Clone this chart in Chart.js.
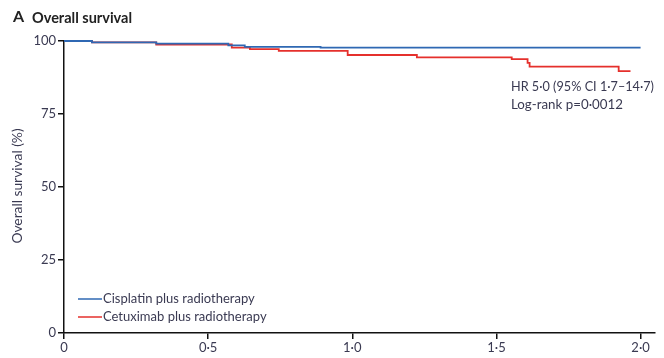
<!DOCTYPE html>
<html><head><meta charset="utf-8">
<script src="https://cdn.jsdelivr.net/npm/chart.js@4/dist/chart.umd.min.js"></script>
<style>html,body{margin:0;padding:0;background:#fff}#wrap{width:664px;height:358px;position:relative}</style>
</head><body><div id="wrap"><canvas id="c" width="664" height="358"></canvas></div>
<script>
// Kaplan-Meier step data (years, % surviving)
const cisTimes = [0, 0.097, 0.32, 0.57, 0.627, 0.89, 2.0];
const cisSurv  = [100, 99.5, 99.1, 98.5, 98.0, 97.7, 97.7];
const cetTimes = [0, 0.097, 0.32, 0.582, 0.645, 0.745, 0.984, 1.224, 1.553, 1.608, 1.615, 1.924, 1.965];
const cetSurv  = [100, 99.5, 98.8, 97.7, 97.2, 96.6, 95.2, 94.4, 93.8, 92.5, 91.2, 89.7, 89.7];
const xTickValues = [0, 0.5, 1.0, 1.5, 2.0];
const xTickLabels = ['0', '0·5', '1·0', '1·5', '2·0'];
const yTickValues = [0, 25, 50, 75, 100];
const seriesNames = ['Cisplatin plus radiotherapy', 'Cetuximab plus radiotherapy'];
const titleText = 'Overall survival';
const panelLetter = 'A';
const yAxisTitle = 'Overall survival (%)';
const annoLines = ['HR 5·0 (95% CI 1·7–14·7)', 'Log-rank p=0·0012'];

const FONT = "Lato, 'Open Sans', sans-serif";
const TXT = '#3a3a52';
const BLUE = '#2f68b3';
const RED = '#e5302c';

const toPts = (t, s) => t.map((x, i) => ({x, y: s[i]}));

function fitText(ctx, text, x, y, w) {
  const m = ctx.measureText(text).width;
  ctx.save();
  ctx.translate(x, y);
  ctx.scale(w / m, 1);
  ctx.fillText(text, 0, 0);
  ctx.restore();
}

const overlay = {
  id: 'overlay',
  afterDraw(chart) {
    const ctx = chart.ctx;
    ctx.save();
    ctx.fillStyle = '#222';
    ctx.textBaseline = 'middle';
    ctx.textAlign = 'left';
    ctx.font = "bold 16px " + FONT;
    ctx.fillText(panelLetter, 13, 17);
    ctx.font = "bold 14.5px " + FONT;
    ctx.fillText(titleText, 32, 18);
    // y axis title
    ctx.fillStyle = TXT;
    ctx.font = "13.8px " + FONT;
    ctx.translate(18, 186);
    ctx.rotate(-Math.PI / 2);
    ctx.textAlign = 'center';
    ctx.fillText(yAxisTitle, 0, 0);
    ctx.restore();
    ctx.save();
    // annotation
    ctx.fillStyle = TXT;
    ctx.font = "14px " + FONT;
    ctx.textBaseline = 'middle';
    ctx.textAlign = 'left';
    fitText(ctx, annoLines[0], 511, 86, 143);
    fitText(ctx, annoLines[1], 511, 104, 112);
    // legend
    const cols = [BLUE, RED];
    ctx.font = "13px " + FONT;
    [299, 317].forEach((y, i) => {
      ctx.strokeStyle = cols[i];
      ctx.lineWidth = 1.5;
      ctx.beginPath(); ctx.moveTo(78, y); ctx.lineTo(102, y); ctx.stroke();
      ctx.fillStyle = TXT;
      ctx.fillText(seriesNames[i], 103, y);
    });
    ctx.restore();
  }
};

new Chart(document.getElementById('c'), {
  type: 'line',
  data: {
    datasets: [
      {label: seriesNames[0], data: toPts(cisTimes, cisSurv), borderColor: BLUE, borderWidth: 1.8, stepped: true, pointRadius: 0, fill: false, clip: 6},
      {label: seriesNames[1], data: toPts(cetTimes, cetSurv), borderColor: RED, borderWidth: 1.8, stepped: true, pointRadius: 0, fill: false, clip: 6}
    ]
  },
  options: {
    responsive: false,
    animation: false,
    layout: {padding: {left: 0, right: 9, top: 41, bottom: 0}},
    plugins: {legend: {display: false}, tooltip: {enabled: false}, title: {display: false}},
    scales: {
      x: {
        type: 'linear', min: 0, max: 2.05,
        afterBuildTicks: s => { s.ticks = xTickValues.map(v => ({value: v})); },
        afterFit: s => { s.height = 25; },
        ticks: {autoSkip: false, maxRotation: 0, padding: 1, color: TXT, font: {family: FONT, size: 13},
          callback: (v) => { const i = xTickValues.indexOf(v); return i >= 0 ? xTickLabels[i] : ''; }},
        grid: {display: true, drawOnChartArea: false, drawTicks: true, tickLength: 6, color: '#111', lineWidth: 1.5},
        border: {display: true, color: '#111', width: 1.5}
      },
      y: {
        type: 'linear', min: 0, max: 100,
        afterBuildTicks: s => { s.ticks = yTickValues.map(v => ({value: v})); },
        afterFit: s => { s.width = 64; },
        ticks: {padding: 2, color: TXT, font: {family: FONT, size: 13}},
        grid: {display: true, drawOnChartArea: false, drawTicks: true, tickLength: 6, color: '#111', lineWidth: 1.5},
        border: {display: true, color: '#111', width: 1.5}
      }
    }
  },
  plugins: [overlay]
});
</script></body></html>
